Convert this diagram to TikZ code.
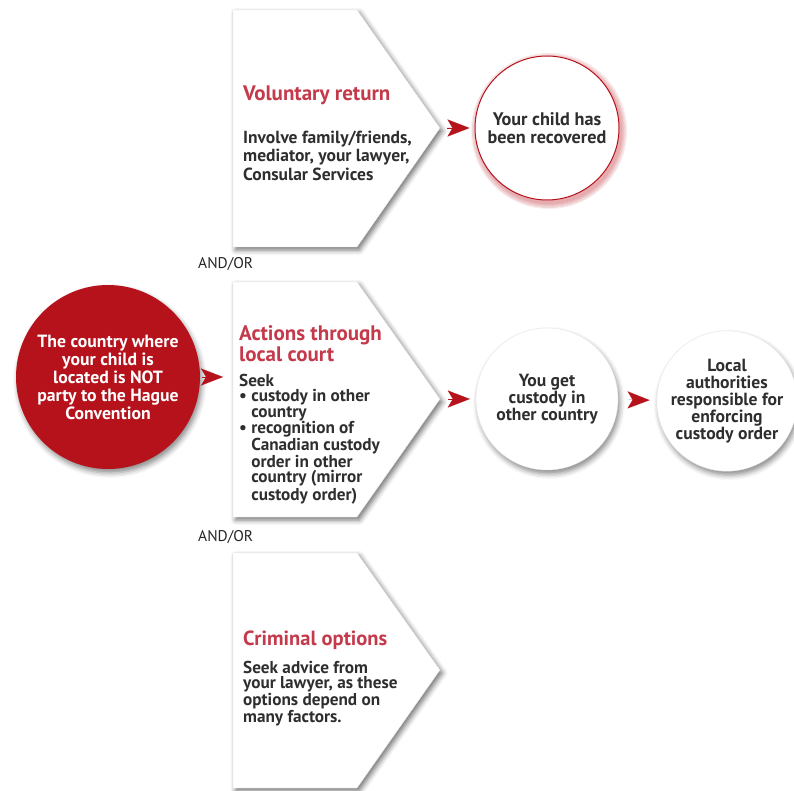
\documentclass[tikz,border=0pt]{standalone}
\usepackage{fontspec}
\setmainfont{PT Sans}
\usetikzlibrary{shadows.blur,arrows.meta}
\definecolor{hred}{HTML}{B5121B}
\definecolor{headred}{HTML}{C43A4B}
\definecolor{txt}{HTML}{2E2E2E}
\tikzset{
  pent/.style={fill=white, draw=black!12, line width=0.4pt,
    blur shadow={shadow xshift=2.5pt, shadow yshift=-3pt, shadow blur radius=5pt, shadow opacity=55}},
  circ/.style={circle, fill=white, align=center, text=txt, font=\bfseries\fontsize{17.6}{17}\selectfont,
    inner sep=0pt, draw=black!10, line width=0.4pt,
    blur shadow={shadow xshift=2pt, shadow yshift=-4pt, shadow blur radius=5pt, shadow opacity=45}},
  redarrow/.style={hred, fill=hred, line width=0.1pt, -{Stealth[length=22pt, width=17pt, inset=5pt]}},
  head/.style={anchor=base west, inner sep=0pt, text=headred, align=left, font=\bfseries\fontsize{21}{19}\selectfont},
  body/.style={anchor=base west, inner sep=0pt, text=txt, align=left, font=\bfseries\fontsize{17.5}{18.7}\selectfont},
  bodyt/.style={anchor=base west, inner sep=0pt, text=txt, align=left, font=\bfseries\fontsize{17.2}{15.5}\selectfont},
  andor/.style={anchor=base west, inner sep=0pt, text=black!85, font=\fontsize{15.5}{15.5}\selectfont}
}
\begin{document}
\begin{tikzpicture}[x=1pt,y=-1pt]
\useasboundingbox (0,0) rectangle (794,791);
% pentagons
\path[pent] (233,10) -- (357,10) -- (440,128) -- (357,247) -- (233,247) -- cycle;
\coordinate (t1) at (440,128);
\path[pent] (233,282) -- (357,282) -- (440,399) -- (357,517) -- (233,517) -- cycle;
\coordinate (t2) at (440,399);
\coordinate (p2w) at (233,377);
\path[pent] (233,553) -- (357,553) -- (440,670) -- (357,788) -- (233,788) -- cycle;
% texts in pentagons (base anchor = baseline of the last line)
\node[head] (h1) at (243,101) {Voluntary return};
\node[body] (b1) at (243,180.5) {Involve family/friends,\\mediator, your lawyer,\\Consular Services};
\node[head] (h2) at (239,361) {Actions through\\local court};
\node[bodyt] (b2) at (239,500) {Seek\\\textbullet\ custody in other\\\hphantom{\textbullet\ }country\\\textbullet\ recognition of\\\hphantom{\textbullet\ }Canadian custody\\\hphantom{\textbullet\ }order in other\\\hphantom{\textbullet\ }country (mirror\\\hphantom{\textbullet\ }custody order)};
\node[head, font=\bfseries\fontsize{20.5}{19}\selectfont] (h3) at (243,645) {Criminal options};
\node[bodyt] (b3) at (243,722) {Seek advice from\\your lawyer, as these\\options depend on\\many factors.};
% and/or
\node[andor] (ao1) at (198,269) {AND/OR};
\node[andor] (ao2) at (198,541) {AND/OR};
% circles
\node[circle, fill=hred, minimum size=184pt, inner sep=0pt, align=center, text=white,
  font=\bfseries\fontsize{17.7}{18}\selectfont,
  blur shadow={shadow xshift=2pt, shadow yshift=-4pt, shadow blur radius=5pt, shadow opacity=45}] (rc) at (108,377)
  {The country where\\your child is\\located is NOT\\party to the Hague\\Convention};
\foreach \r in {1,...,6} {\fill[hred, opacity=0.07] (549,131) circle[radius=72+\r];}
\node[circ, minimum size=144pt, draw=hred, line width=1pt, font=\bfseries\fontsize{18.2}{17.5}\selectfont,
  blur shadow={shadow opacity=0}] (c1) at (547,128) {Your child has\\been recovered};
\node[circ, minimum size=142pt] (c2) at (547,399) {You get\\custody in\\other country};
\node[circ, minimum size=140pt] (c3) at (727,401) {Local\\authorities\\responsible for\\enforcing\\custody order};
% arrows
\draw[redarrow, shorten <=7pt, shorten >=5pt] (t1) -- (c1);
\draw[redarrow, shorten <=2pt, shorten >=10pt] (rc) -- (p2w);
\draw[redarrow, shorten <=8pt, shorten >=6pt] (t2) -- (c2);
\draw[redarrow, shorten <=11pt, shorten >=7pt] (c2) -- (c3);
\end{tikzpicture}
\end{document}
